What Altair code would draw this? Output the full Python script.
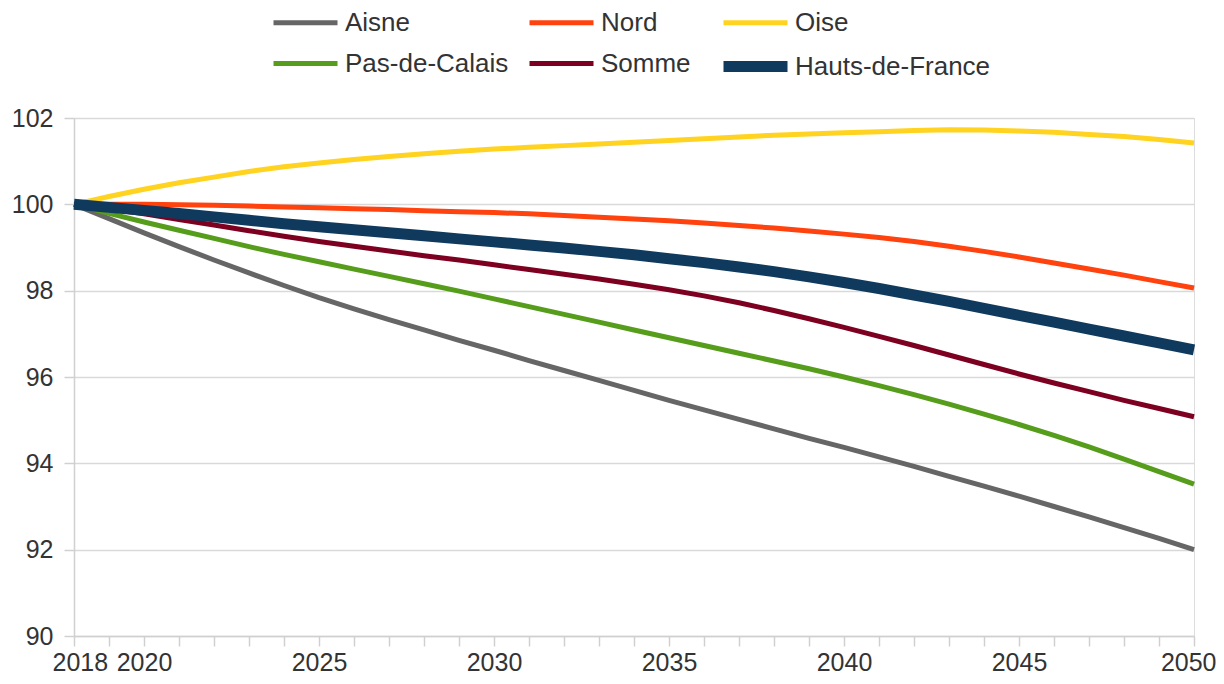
import altair as alt
import pandas as pd

years = list(range(2018, 2051))

series_names = ["Aisne", "Nord", "Oise", "Pas-de-Calais", "Somme", "Hauts-de-France"]
series_colors = ["#666666", "#ff420e", "#ffd320", "#579d1c", "#7e0021", "#0f3a5d"]
series_widths = [5, 5, 5, 5, 5, 11]

aisne = [100.00, 99.67, 99.34, 99.02, 98.71, 98.41, 98.12, 97.84, 97.58, 97.33,
         97.09, 96.85, 96.62, 96.38, 96.15, 95.92, 95.69, 95.46, 95.24, 95.02,
         94.80, 94.58, 94.37, 94.15, 93.93, 93.70, 93.47, 93.24, 93.00, 92.76,
         92.51, 92.26, 92.00]
nord = [100.00, 100.00, 100.00, 99.99, 99.98, 99.96, 99.94, 99.92, 99.90, 99.88,
        99.85, 99.83, 99.81, 99.78, 99.74, 99.70, 99.66, 99.62, 99.57, 99.51,
        99.45, 99.38, 99.31, 99.23, 99.14, 99.03, 98.91, 98.78, 98.64, 98.50,
        98.36, 98.21, 98.06]
oise = [100.00, 100.18, 100.35, 100.50, 100.63, 100.76, 100.87, 100.96, 101.04, 101.11,
        101.17, 101.23, 101.28, 101.32, 101.36, 101.40, 101.44, 101.48, 101.52, 101.56,
        101.60, 101.63, 101.66, 101.68, 101.71, 101.73, 101.72, 101.70, 101.67, 101.62,
        101.57, 101.50, 101.42]
pas_de_calais = [100.00, 99.79, 99.59, 99.40, 99.21, 99.02, 98.84, 98.67, 98.50, 98.33,
                 98.16, 97.99, 97.81, 97.63, 97.45, 97.27, 97.09, 96.91, 96.73, 96.55,
                 96.37, 96.19, 96.00, 95.80, 95.59, 95.37, 95.14, 94.90, 94.65, 94.38,
                 94.10, 93.81, 93.52]
somme = [100.00, 99.89, 99.78, 99.65, 99.52, 99.39, 99.26, 99.14, 99.03, 98.92,
         98.81, 98.71, 98.60, 98.49, 98.38, 98.27, 98.15, 98.02, 97.88, 97.72,
         97.54, 97.35, 97.15, 96.94, 96.73, 96.51, 96.29, 96.07, 95.86, 95.66,
         95.46, 95.27, 95.08]
hauts_de_france = [100.00, 99.93, 99.86, 99.79, 99.71, 99.63, 99.55, 99.48, 99.41, 99.34,
                   99.27, 99.20, 99.13, 99.06, 98.99, 98.91, 98.83, 98.74, 98.65, 98.55,
                   98.44, 98.32, 98.19, 98.05, 97.90, 97.75, 97.59, 97.43, 97.27, 97.11,
                   96.95, 96.79, 96.63]

y_ticks = [90, 92, 94, 96, 98, 100, 102]

values_by_series = [aisne, nord, oise, pas_de_calais, somme, hauts_de_france]
rows = []
for name, vals in zip(series_names, values_by_series):
    for yr, v in zip(years, vals):
        rows.append({"year": yr, "value": v, "series": name})
df = pd.DataFrame(rows)

FONT = "Liberation Sans"

color_scale = alt.Scale(domain=series_names, range=series_colors)
width_scale = alt.Scale(type="ordinal", domain=series_names, range=series_widths)

legend = alt.Legend(
    orient="none", legendX=194, legendY=-114, columns=3, direction="horizontal",
    title=None, symbolType="M-1,0H3", symbolSize=1024, labelFont=FONT,
    labelFontSize=26, labelColor="#333333", columnPadding=10, rowPadding=8,
    labelOffset=34, labelLimit=400,
)

x_enc = alt.X("year:Q", scale=alt.Scale(domain=[2018, 2050], nice=False, zero=False),
              axis=alt.Axis(values=years, title=None, grid=False, labelOverlap=False,
                            labelFlush=True, labelFlushOffset=22, labelBound=False,
                            labelExpr="(datum.value == 2018 || datum.value % 5 == 0) ? datum.value : ''",
                            format="d", tickSize=10, tickColor="#d0d0d0", tickWidth=1.5,
                            domainColor="#d0d0d0", domainWidth=1.5, labelPadding=4,
                            labelFont=FONT, labelFontSize=25, labelColor="#333333"))
y_enc = alt.Y("value:Q", scale=alt.Scale(domain=[90, 102], nice=False, zero=False),
              axis=alt.Axis(values=y_ticks, title=None, grid=True, gridColor="#d9d9d9",
                            gridWidth=1.5, tickSize=10, tickColor="#d0d0d0", tickWidth=1.5,
                            domainColor="#d0d0d0", domainWidth=1.5, labelPadding=11,
                            labelFont=FONT, labelFontSize=25, labelColor="#333333"))

enc = dict(
    x=x_enc, y=y_enc,
    color=alt.Color("series:N", scale=color_scale, legend=legend),
    strokeWidth=alt.StrokeWidth("series:N", scale=width_scale, legend=legend),
)

others = alt.Chart(df).transform_filter("datum.series != 'Hauts-de-France'").mark_line(
    strokeCap="butt", strokeJoin="round").encode(**enc)
hdf = alt.Chart(df).transform_filter("datum.series == 'Hauts-de-France'").mark_line(
    strokeCap="butt", strokeJoin="round").encode(**enc)

chart = alt.layer(others, hdf).properties(
    width=1120, height=518,
    autosize=alt.AutoSizeParams(type="none"),
    padding={"left": 66, "top": 110, "right": 22, "bottom": 40},
).configure_view(stroke="#d9d9d9", strokeWidth=1.5).configure(background="white")

chart.save("out.html", embed_options={"renderer": "svg", "actions": False})
